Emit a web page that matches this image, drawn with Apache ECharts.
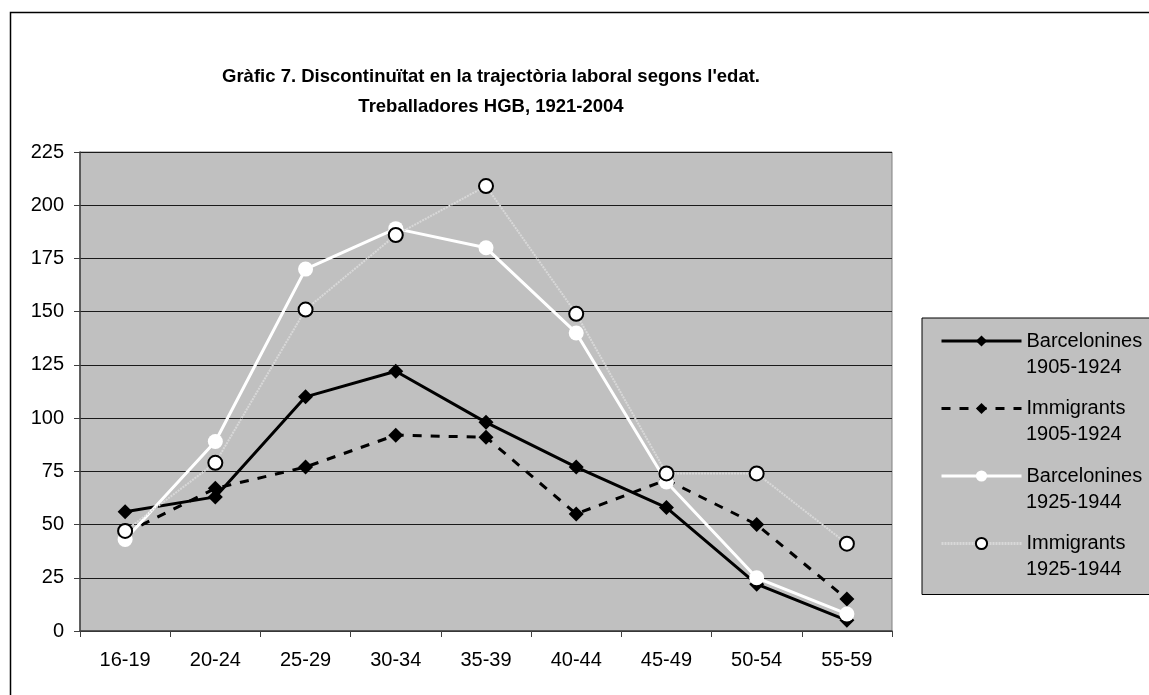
<!DOCTYPE html>
<html>
<head>
<meta charset="utf-8">
<script src="https://cdn.jsdelivr.net/npm/echarts@6/dist/echarts.min.js"></script>
<style>
  html, body { margin: 0; padding: 0; background: #fff; }
  #chart { width: 1149px; height: 695px; }
</style>
</head>
<body>
<div id="chart"></div>
<script>
// age groups on x axis
const ages = ["16-19", "20-24", "25-29", "30-34", "35-39", "40-44", "45-49", "50-54", "55-59"];

// values
const barcelonines1905 = [56, 63, 110, 122, 98, 77, 58, 22, 5];
const immigrants1905 = [46, 67, 77, 92, 91, 55, 71, 50, 15];
const barcelonines1925 = [43, 89, 170, 189, 180, 140, 70, 25, 8];
const immigrants1925 = [47, 79, 151, 186, 209, 149, 74, 74, 41];

const seriesNames = [
  "Barcelonines\n1905-1924",
  "Immigrants\n1905-1924",
  "Barcelonines\n1925-1944",
  "Immigrants\n1925-1944"
];

const yTicks = { min: 0, max: 225, interval: 25 };

const chart = echarts.init(document.getElementById("chart"));

const legendText = {
  fontFamily: "Liberation Sans",
  fontSize: 20,
  lineHeight: 28,
  color: "#000"
};

const option = {
  animation: false,
  backgroundColor: "#fff",
  textStyle: { fontFamily: "Liberation Sans" },
  title: {
    text: "Gràfic 7. Discontinuïtat en la trajectòria laboral segons l'edat.\nTreballadores HGB, 1921-2004",
    left: 486,
    top: 57,
    textAlign: "center",
    textStyle: {
      fontFamily: "Liberation Sans",
      fontWeight: "bold",
      fontSize: 18.5,
      lineHeight: 30,
      color: "#000"
    }
  },
  grid: {
    left: 80,
    right: 257,
    top: 152,
    bottom: 64,
    show: true,
    backgroundColor: "#c0c0c0",
    borderColor: "#808080",
    borderWidth: 1
  },
  legend: [
    {
      // first line of each name, with the line/marker icon
      orient: "vertical",
      left: 922,
      top: 318,
      backgroundColor: "#c0c0c0",
      borderColor: "#000",
      borderWidth: 1,
      padding: [9, 30, 37, 18],
      itemWidth: 80,
      itemHeight: 14,
      itemGap: 39.5,
      lineStyle: { width: 3 },
      textStyle: legendText,
      formatter: function (name) {
        return name.split("\n")[0];
      },
      data: seriesNames
    },
    {
      // second line (years), icon hidden
      orient: "vertical",
      left: 940,
      top: 353,
      padding: 0,
      z: 5,
      itemWidth: 80,
      itemHeight: 14,
      itemGap: 39.5,
      selectedMode: false,
      itemStyle: { opacity: 0 },
      lineStyle: { opacity: 0 },
      textStyle: legendText,
      formatter: function (name) {
        return name.split("\n")[1];
      },
      data: seriesNames
    }
  ],
  xAxis: {
    type: "category",
    data: ages,
    boundaryGap: true,
    axisLine: { lineStyle: { color: "#404040", width: 1.5 } },
    axisTick: { show: true, inside: false, length: 6, lineStyle: { color: "#404040" } },
    axisLabel: { fontSize: 20, color: "#000", margin: 19 },
    splitLine: { show: false }
  },
  yAxis: {
    type: "value",
    min: yTicks.min,
    max: yTicks.max,
    interval: yTicks.interval,
    axisLine: { show: true, lineStyle: { color: "#404040", width: 1.5 } },
    axisTick: { show: true, length: 6, lineStyle: { color: "#404040" } },
    axisLabel: { fontSize: 20, color: "#000", margin: 16 },
    splitLine: { show: true, lineStyle: { color: "#1a1a1a", width: 1 } }
  },
  series: [
    {
      name: seriesNames[0],
      type: "line",
      data: barcelonines1905,
      symbol: "diamond",
      symbolSize: 15,
      lineStyle: { color: "#000", width: 3 },
      itemStyle: { color: "#000" }
    },
    {
      name: seriesNames[1],
      type: "line",
      data: immigrants1905,
      symbol: "diamond",
      symbolSize: 15,
      lineStyle: { color: "#000", width: 3, type: [9, 9] },
      itemStyle: { color: "#000" }
    },
    {
      name: seriesNames[2],
      type: "line",
      data: barcelonines1925,
      symbol: "circle",
      symbolSize: 15,
      lineStyle: { color: "#fff", width: 3 },
      itemStyle: { color: "#fff" }
    },
    {
      name: seriesNames[3],
      type: "line",
      data: immigrants1925,
      symbol: "circle",
      symbolSize: 14,
      lineStyle: { color: "#d8d8d8", width: 2, type: [2, 1] },
      itemStyle: { color: "#fff", borderColor: "#000", borderWidth: 2 }
    }
  ],
  graphic: [
    {
      type: "rect",
      left: 8,
      top: 10,
      shape: { width: 1160, height: 700 },
      style: { fill: null, stroke: "#000", lineWidth: 1.5 },
      silent: true
    }
  ]
};

chart.setOption(option);
</script>
</body>
</html>
